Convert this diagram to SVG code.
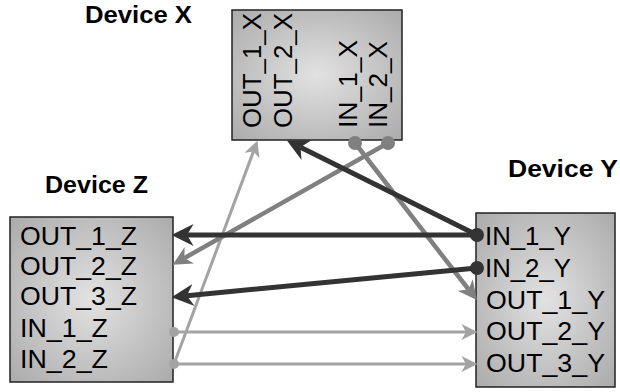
<svg xmlns="http://www.w3.org/2000/svg" width="620" height="392" viewBox="0 0 620 392">
<defs>
<radialGradient id="boxfill" cx="50%" cy="50%" r="70%">
<stop offset="0" stop-color="#e2e2e2"/>
<stop offset="1" stop-color="#ababab"/>
</radialGradient>
<marker id="ahDark" markerUnits="userSpaceOnUse" markerWidth="22" markerHeight="22" viewBox="0 0 20 20" refX="6" refY="10" orient="auto">
<path d="M0,0 L20,10 L0,20 L6,10 z" fill="#333333"/>
</marker>
<marker id="ahMid" markerUnits="userSpaceOnUse" markerWidth="19" markerHeight="19" viewBox="0 0 17 17" refX="5" refY="8.5" orient="auto">
<path d="M0,0 L17,8.5 L0,17 L5,8.5 z" fill="#808080"/>
</marker>
<marker id="ahLight" markerUnits="userSpaceOnUse" markerWidth="16" markerHeight="16" viewBox="0 0 14 14" refX="4" refY="7" orient="auto">
<path d="M0,0 L14,7 L0,14 L4,7 z" fill="#a3a3a3"/>
</marker>
</defs>
<style>
.box{fill:url(#boxfill);stroke:#222;stroke-width:1.5}
.title{font-family:"Liberation Sans",Arial,sans-serif;font-weight:bold;font-size:24px;fill:#000}
.port{font-family:"Liberation Sans",Arial,sans-serif;font-size:25px;fill:#000}
.dark{stroke:#333333;stroke-width:5;fill:none;marker-end:url(#ahDark)}
.mid{stroke:#808080;stroke-width:4.5;fill:none;marker-end:url(#ahMid)}
.light{stroke:#a3a3a3;stroke-width:3;fill:none;marker-end:url(#ahLight)}
.dDark{fill:#333333}
.dMid{fill:#808080}
.dLight{fill:#a3a3a3}
</style>

<g id="deviceX">
<text class="title" x="85" y="23" textLength="107" lengthAdjust="spacingAndGlyphs">Device X</text>
<rect class="box" x="232" y="10" width="170" height="130"/>
<text class="port" transform="translate(261,128) rotate(-90)" textLength="115" lengthAdjust="spacingAndGlyphs">OUT_1_X</text>
<text class="port" transform="translate(292,128) rotate(-90)" textLength="115" lengthAdjust="spacingAndGlyphs">OUT_2_X</text>
<text class="port" transform="translate(357,128) rotate(-90)" textLength="88" lengthAdjust="spacingAndGlyphs">IN_1_X</text>
<text class="port" transform="translate(387,128) rotate(-90)" textLength="87" lengthAdjust="spacingAndGlyphs">IN_2_X</text>
</g>

<g id="deviceZ">
<text class="title" x="45" y="193" textLength="103" lengthAdjust="spacingAndGlyphs">Device Z</text>
<rect class="box" x="10" y="217" width="163" height="165"/>
<text class="port" x="20" y="245" textLength="117" lengthAdjust="spacingAndGlyphs">OUT_1_Z</text>
<text class="port" x="20" y="275" textLength="117" lengthAdjust="spacingAndGlyphs">OUT_2_Z</text>
<text class="port" x="20" y="305" textLength="117" lengthAdjust="spacingAndGlyphs">OUT_3_Z</text>
<text class="port" x="20" y="337" textLength="88" lengthAdjust="spacingAndGlyphs">IN_1_Z</text>
<text class="port" x="20" y="368" textLength="88" lengthAdjust="spacingAndGlyphs">IN_2_Z</text>
</g>

<g id="deviceY">
<text class="title" x="508" y="177" textLength="110" lengthAdjust="spacingAndGlyphs">Device Y</text>
<rect class="box" x="476" y="213" width="139" height="174"/>
<text class="port" x="485" y="245" textLength="86" lengthAdjust="spacingAndGlyphs">IN_1_Y</text>
<text class="port" x="485" y="277" textLength="86" lengthAdjust="spacingAndGlyphs">IN_2_Y</text>
<text class="port" x="486" y="309" textLength="119" lengthAdjust="spacingAndGlyphs">OUT_1_Y</text>
<text class="port" x="486" y="340" textLength="119" lengthAdjust="spacingAndGlyphs">OUT_2_Y</text>
<text class="port" x="486" y="372" textLength="119" lengthAdjust="spacingAndGlyphs">OUT_3_Y</text>
</g>

<g id="connectors">
<line class="light" x1="174" y1="332" x2="466" y2="332"/>
<line class="light" x1="174" y1="364" x2="466" y2="364"/>
<line class="light" x1="174" y1="364" x2="253.5" y2="151.4"/>
<line class="mid" x1="355" y1="143" x2="468.6" y2="289.5"/>
<line class="mid" x1="388" y1="143" x2="184.4" y2="258.1"/>
<line class="dark" x1="477" y1="235" x2="187" y2="235"/>
<line class="dark" x1="477" y1="235" x2="300.5" y2="147.2"/>
<line class="dark" x1="477" y1="268" x2="186.9" y2="295.7"/>
<circle class="dLight" cx="174" cy="332" r="5"/>
<circle class="dLight" cx="174" cy="364" r="5"/>
<circle class="dMid" cx="355" cy="143" r="7"/>
<circle class="dMid" cx="388" cy="143" r="7"/>
<circle class="dDark" cx="477" cy="235" r="7"/>
<circle class="dDark" cx="477" cy="268" r="7"/>
</g>
</svg>
